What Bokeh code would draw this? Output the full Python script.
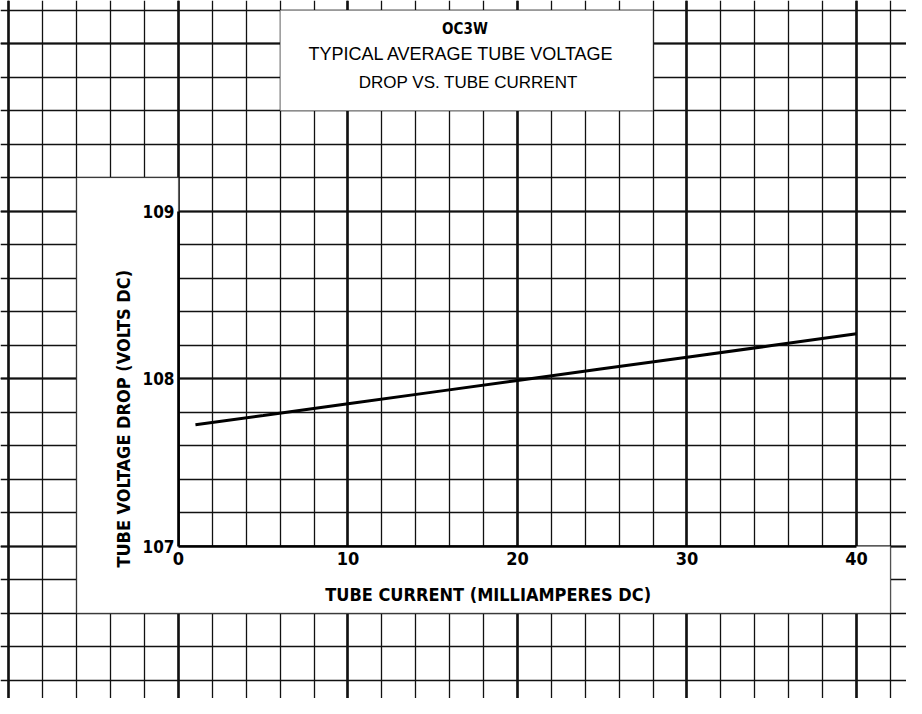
import math
from bokeh.plotting import figure
from bokeh.models import (Range1d, LinearAxis, FixedTicker, SingleIntervalTicker, Grid,
                          BoxAnnotation, PolyAnnotation, Label)
from bokeh.embed import file_html
from bokeh.resources import INLINE

# ---- data ----
current_ma = [1, 5, 10, 15, 20, 25, 30, 35, 40]
voltage_drop = [107.725, 107.78, 107.85, 107.92, 107.99, 108.06, 108.128, 108.198, 108.268]
x_ticks = [0, 10, 20, 30, 40]
y_ticks = [107, 108, 109]

title_lines = ["OC3W", "TYPICAL AVERAGE TUBE VOLTAGE", "DROP VS. TUBE CURRENT"]
x_title = "TUBE CURRENT (MILLIAMPERES DC)"
y_title = "TUBE VOLTAGE DROP (VOLTS DC)"

COND = "DejaVu Sans Condensed"
REG = "Liberation Sans"

X0, X1 = -10.501, 42.950
Y0, Y1 = 106.091, 110.258

p = figure(width=906, height=698, output_backend="svg", toolbar_location=None,
           x_axis_type=None, y_axis_type=None,
           x_range=Range1d(X0, X1), y_range=Range1d(Y0, Y1),
           min_border=0, min_border_left=0, min_border_right=0,
           min_border_top=0, min_border_bottom=0)
p.outline_line_color = None
p.background_fill_color = "white"
p.border_fill_color = "white"

# background graph-paper grid
xg = Grid(dimension=0, ticker=SingleIntervalTicker(interval=10, num_minor_ticks=5),
          bounds=(X0, X1), cross_bounds=(Y0, Y1),
          grid_line_color="#111111", grid_line_width=2.6,
          minor_grid_line_color="#111111", minor_grid_line_width=1.3)
yg = Grid(dimension=1, ticker=SingleIntervalTicker(interval=1, num_minor_ticks=5),
          bounds=(Y0, Y1), cross_bounds=(X0, X1),
          grid_line_color="#111111", grid_line_width=2.2,
          minor_grid_line_color="#111111", minor_grid_line_width=1.3)
p.add_layout(xg, "center")
p.add_layout(yg, "center")

# white label panels
title_box = BoxAnnotation(left=6, right=28, bottom=109.6, top=110.2, level="underlay",
                          fill_color="white", fill_alpha=1.0,
                          line_color="#111111", line_width=1.3)
p.add_layout(title_box)
label_panel = PolyAnnotation(xs=[-6, 0, 0, 42, 42, -6], ys=[109.2, 109.2, 107, 107, 106.6, 106.6],
                             level="underlay", fill_color="white", fill_alpha=1.0,
                             line_color="#111111", line_width=1.3)
p.add_layout(label_panel)

# curve
p.line(current_ma, voltage_drop, line_color="black", line_width=3)

# axes drawn inside the graph paper
xaxis = LinearAxis(fixed_location=107, bounds=(0, 40), ticker=FixedTicker(ticks=x_ticks),
                   axis_line_color="black", axis_line_width=2.6,
                   major_tick_out=0, major_tick_in=0, minor_tick_out=0, minor_tick_in=0,
                   major_label_standoff=6,
                   major_label_text_font=COND, major_label_text_font_style="bold",
                   major_label_text_font_size="18px", major_label_text_color="black")
yaxis = LinearAxis(fixed_location=0, bounds=(107, 109), ticker=FixedTicker(ticks=y_ticks),
                   axis_line_color="black", axis_line_width=2.6,
                   major_tick_out=0, major_tick_in=0, minor_tick_out=0, minor_tick_in=0,
                   major_label_standoff=4,
                   major_label_text_font=COND, major_label_text_font_style="bold",
                   major_label_text_font_size="17px", major_label_text_color="black")
p.add_layout(xaxis, "below")
p.add_layout(yaxis, "left")

# axis titles
p.add_layout(Label(x=18.27, y=106.71, text=x_title, text_align="center", text_baseline="middle",
                   text_font=COND, text_font_style="bold", text_font_size="18px",
                   text_color="black"))
p.add_layout(Label(x=-3.245, y=107.761, text=y_title, angle=math.pi / 2,
                   text_align="center", text_baseline="middle",
                   text_font=COND, text_font_style="bold", text_font_size="18px",
                   text_color="black"))

# title block
p.add_layout(Label(x=16.9, y=110.089, text=title_lines[0], text_align="center",
                   text_baseline="middle", text_font=COND, text_font_style="bold",
                   text_font_size="15px", text_color="black"))
p.add_layout(Label(x=16.7, y=109.94, text=title_lines[1], text_align="center",
                   text_baseline="middle", text_font=REG, text_font_size="18px",
                   text_color="black"))
p.add_layout(Label(x=17.1, y=109.77, text=title_lines[2], text_align="center",
                   text_baseline="middle", text_font=REG, text_font_size="17px",
                   text_color="black"))

open("out.html", "w").write(file_html(p, INLINE))
